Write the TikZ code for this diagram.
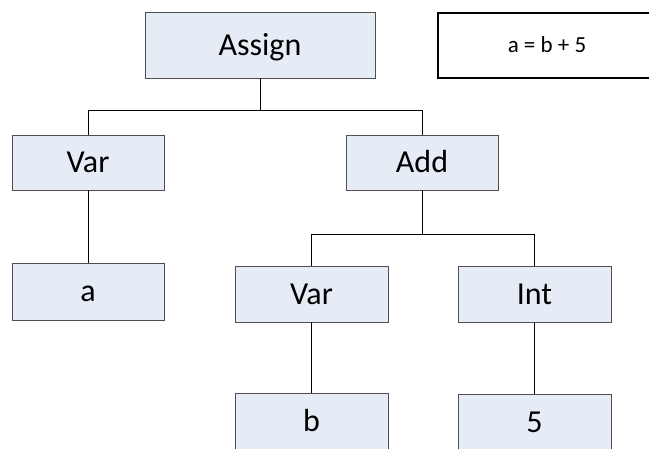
\documentclass[tikz,border=0pt]{standalone}
\usepackage{fontspec}
\setmainfont{Carlito}
\definecolor{boxfill}{HTML}{E6ECF6}
\definecolor{boxline}{HTML}{505050}
\tikzset{
  treebox/.style={draw=boxline, fill=boxfill, line width=0.9pt,
    minimum width=152pt, minimum height=56pt, inner sep=0pt,
    text height=20pt, text depth=0pt,
    font=\fontsize{32}{38}\selectfont},
  notebox/.style={draw=black, line width=2pt, minimum width=218pt,
    minimum height=65pt, inner sep=0pt, text height=14.5pt, text depth=0pt,
    font=\fontsize{23}{27}\selectfont},
  link/.style={draw=black, line width=0.9pt}
}
\begin{document}
\begin{tikzpicture}[x=1pt, y=-1pt]
  \useasboundingbox (0,0) rectangle (649,448);
  \clip (0,0) rectangle (649,448);
  \fill[white] (0,0) rectangle (649,448);

  % tree nodes
  \node[treebox, minimum width=230pt, minimum height=66pt] (assign) at (260,45) {Assign};
  \node[treebox, minimum height=55pt] (var1) at (88,162.5) {Var};
  \node[treebox, minimum height=57pt] (a) at (88,291.5) {a};
  \node[treebox, minimum height=55pt] (add) at (422,162.5) {Add};
  \node[treebox, minimum width=153pt] (var2) at (311.5,294) {Var};
  \node[treebox, minimum width=153pt] (int) at (534.5,294.5) {Int};
  \node[treebox, minimum width=153pt] (b) at (311.5,421) {b};
  \node[treebox, minimum width=153pt] (five) at (534.5,422) {5};

  % source expression
  \node[notebox] (expr) at (547,45) {a = b + 5};

  % connectors
  \draw[link] (assign.south) -- ++(0,33);
  \draw[link] (var1.north) -- ++(0,-24) -| (add.north);
  \draw[link] (var1.south) -- (a.north);
  \draw[link] (add.south) -- ++(0,45);
  \draw[link] (var2.north) -- ++(0,-31) -| (int.north);
  \draw[link] (var2.south) -- (b.north);
  \draw[link] (int.south) -- (five.north);
\end{tikzpicture}
\end{document}
